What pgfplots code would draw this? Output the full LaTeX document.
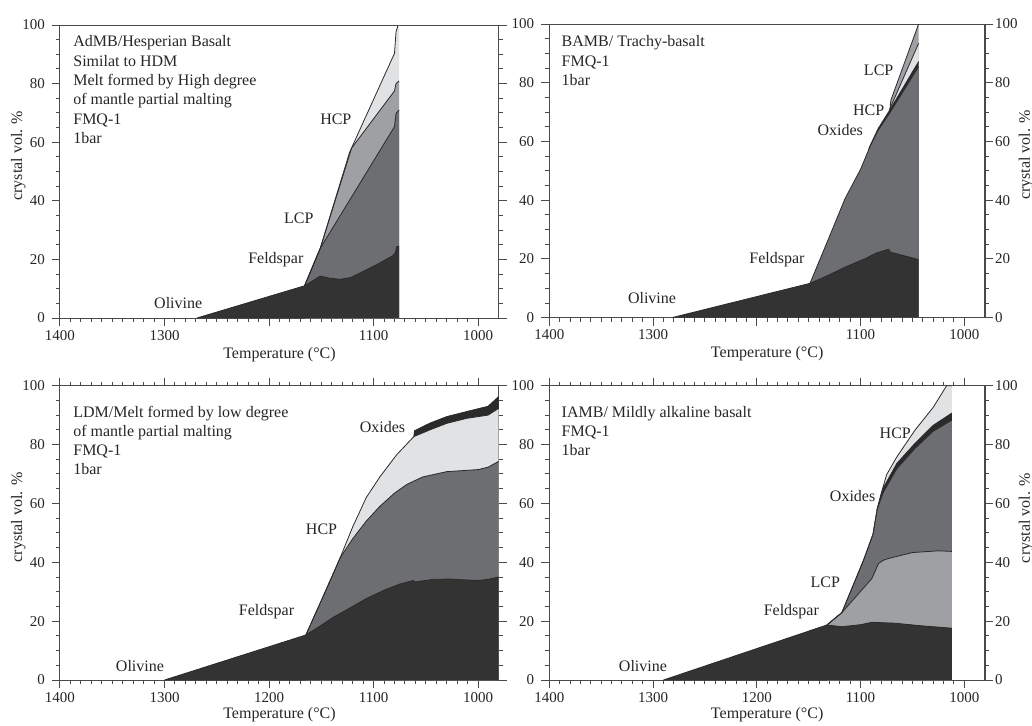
\documentclass[border=0pt]{standalone}
\usepackage{fontspec}
\setmainfont{Liberation Serif}
\usepackage{pgfplots}
\usepackage{pgfplotstable}
\pgfplotsset{compat=1.18}

% phase colours
\definecolor{olc}{HTML}{333333}
\definecolor{fsc}{HTML}{6D6E71}
\definecolor{lcpc}{HTML}{9FA0A3}
\definecolor{hcpc}{HTML}{E1E2E4}
\definecolor{oxc}{HTML}{2B2B2B}
\definecolor{axc}{HTML}{4A4A4A}
\definecolor{bndc}{HTML}{2A2A2A}

% ---------- AdMB (cumulative crystal vol. %) ----------
\pgfplotstableread{
T v
1269 0
1166 11.0
1151 14.3
1142 13.6
1132 13.2
1122 13.8
1107 16.4
1095 18.6
1081 21.4
1079 22.5
1078 24.3
1075.6 24.5
}\aOl
\pgfplotstableread{
T v
1166 11.0
1151 23.8
1080 65.3
1078.5 69.8
1075.6 71.0
}\aFs
\pgfplotstableread{
T v
1166 11.0
1151 23.8
1121 58.0
1080 77.5
1078.5 80.0
1075.6 80.9
}\aLcp
\pgfplotstableread{
T v
1166 11.0
1151 23.8
1123 56.5
1100 74.6
1080 90.3
1078.5 97.7
1076.5 100
1075.6 100
}\aTot

% ---------- BAMB ----------
\pgfplotstableread{
T v
1282 0
1148.7 11.7
1130 14.6
1115 17.2
1095 20.2
1085 22.0
1073 23.3
1071 22.3
1044 19.8
}\bOl
\pgfplotstableread{
T v
1148.7 11.7
1130 27.6
1115 40.5
1100 50.5
1090 59.0
1083 63.8
1072 69.6
1044 85.5
}\bFs
\pgfplotstableread{
T v
1092 57.6
1083 64.4
1072 70.6
1044 87.2
}\bOx
\pgfplotstableread{
T v
1072 70.6
1071.5 71.3
1044 93.4
}\bHcp
\pgfplotstableread{
T v
1072 70.6
1071.5 71.3
1070.8 74.0
1044 100
}\bTot

% ---------- LDM ----------
\pgfplotstableread{
T v
1300 0
1164.8 15.3
1150 18.6
1138.6 21.3
1120 25.0
1106.8 27.7
1090 30.5
1075 32.6
1062 33.8
1060.6 33.3
1043 34.2
1027 34.3
1011 34.0
1000 33.8
990.4 34.2
980.3 35.0
}\cOl
\pgfplotstableread{
T v
1164.8 15.3
1150 27.0
1140 35.0
1132 41.5
1120 48.0
1107 54.0
1094 59.0
1080 63.5
1068 66.5
1053 69.0
1030 70.8
1000 71.5
990.5 72.3
980.3 74.3
}\cFs
\pgfplotstableread{
T v
1164.8 15.3
1150 27.0
1140 35.0
1132 41.5
1120 52.0
1107 62.0
1094 69.0
1078 76.5
1061.5 82.7
1046 85.0
1030 87.2
1011 88.9
990.5 90.0
980.3 92.3
}\cHcp
\pgfplotstableread{
T v
1061.5 82.7
1060.8 84.7
1046 87.3
1030 89.5
1010 91.3
990.5 93.0
980.3 96.3
}\cOx

% ---------- IAMB ----------
\pgfplotstableread{
T v
1290 0
1132.4 18.7
1118 18.1
1100 18.8
1089 19.6
1066.5 19.3
1044 18.5
1012 17.6
}\dOl
\pgfplotstableread{
T v
1132.4 18.7
1118 22.9
1089 34.5
1082.6 39.6
1078 40.7
1073 41.3
1050 43.3
1025 43.9
1012 43.7
}\dLcp
\pgfplotstableread{
T v
1132.4 18.7
1118 22.9
1097 40.8
1088 49.5
1084 58.0
1078 63.8
1065 71.8
1047.5 78.7
1030 84.5
1012 88.3
}\dFs
\pgfplotstableread{
T v
1084 58.0
1078 65.3
1065 73.6
1047.5 80.4
1030 86.5
1012 90.7
}\dOx
\pgfplotstableread{
T v
1132.4 18.7
1118 22.9
1097 40.8
1088 49.5
1084 58.0
1080 63.5
1074.8 69.8
1065 75.8
1047.5 84.9
1030 92.6
1017 100
1012 100
}\dTot

\pgfplotsset{
  panel/.style={
    scale only axis,
    x dir=reverse,
    xmin=980, xmax=1400, ymin=0, ymax=100,
    xtick={1000,1100,1200,1300,1400},
    minor x tick num=9,
    ytick={0,20,40,60,80,100},
    minor y tick num=3,
    tick align=outside,
    ytick pos=both, yticklabel pos=left,
    major tick length=4pt, minor tick length=2pt,
    axis line style={draw=axc, line width=0.5pt},
    every tick/.style={draw=axc, line width=0.5pt},
    tick label style={font=\fontsize{7.5}{9}\selectfont, text=black!85},
    xticklabel style={yshift=1.5pt},
    label style={font=\fontsize{8}{9.6}\selectfont, text=black!85},
    /pgf/number format/assume math mode=true,
    /pgf/number format/1000 sep={},
    xlabel={Temperature (°C)},
  },
  rightlabels/.style={
    hide x axis, xlabel={},
    ytick pos=right, yticklabel pos=right,
    yticklabel style={xshift=-2.5pt},
    ylabel={crystal vol. \%},
  },
  area/.style={draw=none, fill=#1, mark=none},
  bnd/.style={draw=bndc, line width=0.4pt, mark=none},
}
\tikzset{lbl/.style={font=\fontsize{8}{9.6}\selectfont, inner sep=0pt, text=black!85}}

\begin{document}
\begin{tikzpicture}
\useasboundingbox (0,0) rectangle (516pt,362.5pt);

% ===== AdMB / Hesperian basalt =====
\begin{axis}[panel, at={(30pt,203.5pt)}, anchor=south west,
  width=219.5pt, height=146.5pt,
  xticklabels={1000,1100,,1300,1400}, xtick pos=bottom,
  xlabel style={at={(axis description cs:0.5,0)}, anchor=base, yshift=-20pt},
  ylabel={crystal vol. \%},
  ylabel style={at={(axis description cs:-0.095,0.554)}, anchor=center}]
\addplot[area=hcpc] table {\aTot} \closedcycle;
\addplot[area=lcpc] table {\aLcp} \closedcycle;
\addplot[area=fsc] table {\aFs} \closedcycle;
\addplot[area=olc] table {\aOl} \closedcycle;
\addplot[bnd] table {\aTot};
\addplot[bnd] table {\aLcp};
\addplot[bnd] table {\aFs};
\addplot[bnd] table {\aOl};
\node[lbl, anchor=base west] at (axis cs:1387.6,92.6) {AdMB/Hesperian Basalt};
\node[lbl, anchor=base west] at (axis cs:1387.6,86.0) {Similat to HDM};
\node[lbl, anchor=base west] at (axis cs:1387.6,79.4) {Melt formed by High degree};
\node[lbl, anchor=base west] at (axis cs:1387.6,72.8) {of mantle partial malting};
\node[lbl, anchor=base west] at (axis cs:1387.6,66.2) {FMQ-1};
\node[lbl, anchor=base west] at (axis cs:1387.6,59.6) {1bar};
\node[lbl, anchor=base] at (axis cs:1136.1,66.2) {HCP};
\node[lbl, anchor=base] at (axis cs:1171.5,32.1) {LCP};
\node[lbl, anchor=base] at (axis cs:1193.5,18.7) {Feldspar};
\node[lbl, anchor=base] at (axis cs:1286.9,3.3) {Olivine};
\end{axis}

% ===== BAMB / Trachy-basalt =====
\begin{axis}[panel, at={(274.65pt,203.65pt)}, anchor=south west,
  width=217.85pt, height=146.85pt,
  xticklabels={1000,1100,,1300,1400}, xtick pos=bottom,
  xlabel style={at={(axis description cs:0.5,0)}, anchor=base, yshift=-20pt}]
\addplot[area=lcpc] table {\bTot} \closedcycle;
\addplot[area=hcpc] table {\bHcp} \closedcycle;
\addplot[area=oxc] table {\bOx} \closedcycle;
\addplot[area=fsc] table {\bFs} \closedcycle;
\addplot[area=olc] table {\bOl} \closedcycle;
\addplot[bnd] table {\bTot};
\addplot[bnd] table {\bHcp};
\addplot[bnd] table {\bOx};
\addplot[bnd] table {\bFs};
\addplot[bnd] table {\bOl};
\node[lbl, anchor=base west] at (axis cs:1388.4,92.3) {BAMB/ Trachy-basalt};
\node[lbl, anchor=base west] at (axis cs:1388.4,85.7) {FMQ-1};
\node[lbl, anchor=base west] at (axis cs:1388.4,79.1) {1bar};
\node[lbl, anchor=base] at (axis cs:1082.5,82.6) {LCP};
\node[lbl, anchor=base] at (axis cs:1092.2,69.0) {HCP};
\node[lbl, anchor=base] at (axis cs:1119.5,62.2) {Oxides};
\node[lbl, anchor=base] at (axis cs:1180.5,18.5) {Feldspar};
\node[lbl, anchor=base] at (axis cs:1301,4.7) {Olivine};
\end{axis}
\begin{axis}[panel, rightlabels, at={(274.65pt,203.65pt)}, anchor=south west,
  width=217.85pt, height=146.85pt,
  ylabel style={at={(axis description cs:1.094,0.554)}, anchor=center}]
\end{axis}

% ===== LDM =====
\begin{axis}[panel, at={(30pt,22.5pt)}, anchor=south west,
  width=219.5pt, height=147.15pt,
  xtick pos=both, xticklabel pos=lower,
  xlabel style={at={(axis description cs:0.5,0)}, anchor=base, yshift=-19pt},
  ylabel={crystal vol. \%},
  ylabel style={at={(axis description cs:-0.095,0.552)}, anchor=center}]
\addplot[area=oxc] table {\cOx} \closedcycle;
\addplot[area=hcpc] table {\cHcp} \closedcycle;
\addplot[area=fsc] table {\cFs} \closedcycle;
\addplot[area=olc] table {\cOl} \closedcycle;
\addplot[bnd] table {\cOx};
\addplot[bnd] table {\cHcp};
\addplot[bnd] table {\cFs};
\addplot[bnd] table {\cOl};
\node[lbl, anchor=base west] at (axis cs:1387.6,89.3) {LDM/Melt formed by low degree};
\node[lbl, anchor=base west] at (axis cs:1387.6,82.8) {of mantle partial malting};
\node[lbl, anchor=base west] at (axis cs:1387.6,76.3) {FMQ-1};
\node[lbl, anchor=base west] at (axis cs:1387.6,69.8) {1bar};
\node[lbl, anchor=base] at (axis cs:1091.5,84.2) {Oxides};
\node[lbl, anchor=base] at (axis cs:1149.8,49.3) {HCP};
\node[lbl, anchor=base] at (axis cs:1202.4,21.8) {Feldspar};
\node[lbl, anchor=base] at (axis cs:1323.5,2.8) {Olivine};
\end{axis}

% ===== IAMB / Mildly alkaline basalt =====
\begin{axis}[panel, at={(274.65pt,22.5pt)}, anchor=south west,
  width=217.85pt, height=147.15pt,
  xtick pos=both, xticklabel pos=lower,
  xlabel style={at={(axis description cs:0.5,0)}, anchor=base, yshift=-19pt}]
\addplot[area=hcpc] table {\dTot} \closedcycle;
\addplot[area=oxc] table {\dOx} \closedcycle;
\addplot[area=fsc] table {\dFs} \closedcycle;
\addplot[area=lcpc] table {\dLcp} \closedcycle;
\addplot[area=olc] table {\dOl} \closedcycle;
\addplot[bnd] table {\dTot};
\addplot[bnd] table {\dOx};
\addplot[bnd] table {\dFs};
\addplot[bnd] table {\dLcp};
\addplot[bnd] table {\dOl};
\node[lbl, anchor=base west] at (axis cs:1388.4,89.3) {IAMB/ Mildly alkaline basalt};
\node[lbl, anchor=base west] at (axis cs:1388.4,82.7) {FMQ-1};
\node[lbl, anchor=base west] at (axis cs:1388.4,76.2) {1bar};
\node[lbl, anchor=base] at (axis cs:1066.5,82.1) {HCP};
\node[lbl, anchor=base] at (axis cs:1107.6,60.6) {Oxides};
\node[lbl, anchor=base] at (axis cs:1134,31.5) {LCP};
\node[lbl, anchor=base] at (axis cs:1166.7,21.8) {Feldspar};
\node[lbl, anchor=base] at (axis cs:1309.7,2.8) {Olivine};
\end{axis}
\begin{axis}[panel, rightlabels, at={(274.65pt,22.5pt)}, anchor=south west,
  width=217.85pt, height=147.15pt,
  ylabel style={at={(axis description cs:1.094,0.55)}, anchor=center}]
\end{axis}
\end{tikzpicture}
\end{document}
